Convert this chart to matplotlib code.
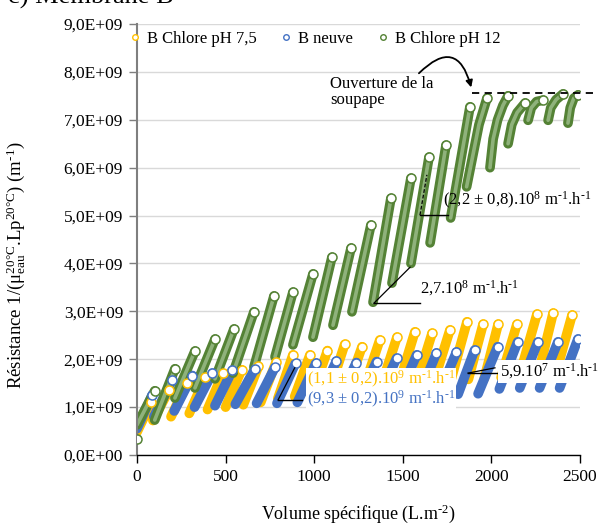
import numpy as np
import matplotlib
matplotlib.use("Agg")
import matplotlib.pyplot as plt
from matplotlib.lines import Line2D
from matplotlib.patches import Arc, FancyArrowPatch
from matplotlib.ticker import FuncFormatter, MultipleLocator

plt.rcParams["font.family"] = ["Liberation Serif", "DejaVu Serif"]
plt.rcParams["mathtext.fontset"] = "custom"
plt.rcParams["mathtext.rm"] = "Liberation Serif"
plt.rcParams["mathtext.it"] = "Liberation Serif:italic"

nan = np.nan

# filtration cycles, one segment per cycle, separated by nan (y in 1e9 m-1)
yellow_x = [0, 80, nan, 90, 180, nan, 192, 282, nan, 295, 385, nan, 398, 485, nan,
            500, 590, nan, 600, 685, nan, 698, 785, nan, 795, 880, nan, 890, 976, nan,
            988, 1075, nan, 1085, 1172, nan, 1182, 1270, nan, 1280, 1370, nan,
            1378, 1467, nan, 1478, 1568, nan, 1578, 1665, nan, 1675, 1766, nan,
            1772, 1862, nan, 1870, 1953, nan, 1960, 2038, nan, 2055, 2144, nan,
            2160, 2257, nan, 2265, 2348, nan, 2365, 2455]
yellow_y = [0.48, 1.10, nan, 0.72, 1.35, nan, 0.80, 1.50, nan, 0.87, 1.62, nan, 0.95, 1.71, nan,
            1.00, 1.78, nan, 1.05, 1.85, nan, 1.10, 1.94, nan, 1.18, 2.09, nan, 1.22, 2.09, nan,
            1.27, 2.18, nan, 1.32, 2.31, nan, 1.35, 2.26, nan, 1.40, 2.40, nan,
            1.44, 2.46, nan, 1.48, 2.57, nan, 1.50, 2.54, nan, 1.53, 2.61, nan,
            1.57, 2.78, nan, 1.58, 2.73, nan, 1.60, 2.73, nan, 1.62, 2.73, nan,
            1.68, 2.94, nan, 1.70, 2.96, nan, 1.72, 2.92]

blue_x = [0, 85, nan, 95, 200, nan, 210, 312, nan, 325, 425, nan, 440, 538, nan,
          555, 665, nan, 675, 780, nan, 790, 895, nan, 905, 1010, nan, 1020, 1125, nan,
          1135, 1238, nan, 1250, 1352, nan, 1362, 1465, nan, 1475, 1578, nan,
          1590, 1690, nan, 1700, 1803, nan, 1812, 1905, nan, 1925, 2035, nan,
          2045, 2148, nan, 2160, 2262, nan, 2272, 2375, nan, 2385, 2488]
blue_y = [0.55, 1.25, nan, 0.80, 1.57, nan, 0.92, 1.66, nan, 1.00, 1.71, nan, 1.03, 1.77, nan,
          1.06, 1.80, nan, 1.08, 1.84, nan, 1.08, 1.92, nan, 1.10, 1.92, nan, 1.12, 1.96, nan,
          1.14, 1.93, nan, 1.15, 1.95, nan, 1.18, 2.02, nan, 1.20, 2.09, nan,
          1.22, 2.13, nan, 1.25, 2.15, nan, 1.27, 2.19, nan, 1.28, 2.26, nan,
          1.38, 2.36, nan, 1.40, 2.36, nan, 1.40, 2.36, nan, 1.40, 2.42]

green_x = [0, nan, 0, 100, nan, 100, 214, nan, 214, 327, nan, 327, 440, nan, 440, 547, nan,
           542, 660, nan, 660, 773, nan, 779, 880, nan, 880, 993, nan, 993, 1100, nan,
           1106, 1208, nan, 1213, 1320, nan, 1332, 1433, nan, 1439, 1546, nan,
           1546, 1648, nan, 1654, 1744, nan, 1770, 1879, nan, 1860, 1930, 1975, nan,
           1992, 2010, 2035, 2065, 2094, nan, 2094, 2115, 2145, 2190, nan,
           2207, 2225, 2255, 2291, nan, 2320, 2335, 2365, 2404, nan,
           2432, 2445, 2465, 2489]
green_y = [0.33, nan, 0.63, 1.34, nan, 0.73, 1.80, nan, 1.19, 2.17, nan, 1.40, 2.42, nan, 1.59, 2.63, nan,
           1.71, 2.99, nan, 1.84, 3.32, nan, 2.05, 3.40, nan, 2.30, 3.78, nan, 2.46, 4.13, nan,
           2.71, 4.32, nan, 2.99, 4.80, nan, 3.19, 5.36, nan, 3.59, 5.78, nan,
           4.00, 6.22, nan, 4.43, 6.47, nan, 4.95, 7.27, nan, 5.60, 6.90, 7.45, nan,
           6.00, 6.60, 7.00, 7.30, 7.50, nan, 6.50, 6.90, 7.15, 7.35, nan,
           6.99, 7.25, 7.38, 7.41, nan, 6.99, 7.25, 7.42, 7.54, nan,
           6.93, 7.25, 7.45, 7.52]

series = [
    ("B Chlore pH 7,5", yellow_x, yellow_y, "#FFC000"),
    ("B neuve", blue_x, blue_y, "#4472C4"),
    ("B Chlore pH 12", green_x, green_y, "#548235"),
]

FS = 12.5
UNIT = r" m$^{\text{-1}}$.h$^{\text{-1}}$"

fig = plt.figure(figsize=(6.08, 5.27), dpi=100)
ax = fig.add_axes([137 / 608, 1 - 455 / 527, 443 / 608, 431 / 527])
ax.set_xlim(0, 2500)
ax.set_ylim(0, 9e9)

handles = []
for name, xs, ys, col in series:
    x = np.array(xs, dtype=float)
    y = np.array(ys, dtype=float) * 1e9
    ax.plot(x, y, color=col, lw=7, solid_capstyle="round", solid_joinstyle="round", zorder=2)
    if col == "#548235":
        # hollow-ring texture of the dense green markers
        ax.plot(x, y, color="#8fb27b", lw=2.6, solid_capstyle="round", zorder=2)
    # last point of each cycle shows as a hollow ring
    nxt = np.append(x[1:], nan)
    ends = ~np.isnan(x) & np.isnan(nxt)
    ax.plot(x[ends], y[ends], "o", ms=6.5, mfc="white", mec=col, mew=1.1, zorder=3)
    handles.append(Line2D([], [], marker="o", ls="none", ms=4, mfc="white", mec=col, mew=1.0, label=name))

ax.yaxis.set_major_locator(MultipleLocator(1e9))
ax.xaxis.set_major_locator(MultipleLocator(500))


def sci_fmt(v, pos):
    if v == 0:
        return "0,0E+00"
    return f"{v / 1e9:.1f}".replace(".", ",") + "E+09"


ax.yaxis.set_major_formatter(FuncFormatter(sci_fmt))
ax.grid(True, axis="y", color="#d9d9d9", lw=1.0, zorder=0)
ax.set_axisbelow(True)
for s in ["top", "right"]:
    ax.spines[s].set_visible(False)
ax.spines["left"].set_color("#7f7f7f")
ax.spines["left"].set_linewidth(1.5)
ax.spines["bottom"].set_color("black")
ax.spines["bottom"].set_linewidth(1.0)
ax.tick_params(axis="y", direction="out", length=6, width=1.0, color="#7f7f7f", labelsize=FS, pad=4)
ax.tick_params(axis="x", direction="out", length=6, width=1.0, color="black", labelsize=FS, pad=4)

ax.set_xlabel(r"Volume spécifique (L.m$^{\text{-2}}$)", fontsize=FS + 0.5, labelpad=13)
ax.set_ylabel(r"Résistance 1/(μ$_{\mathrm{eau}}^{\mathrm{20°C}}$.Lp$^{\mathrm{20°C}}$) (m$^{\text{-1}}$)",
              fontsize=FS + 1, labelpad=12)
ax.yaxis.set_label_coords(-0.245, 0.44)

ax.legend(handles=handles, loc="center", bbox_to_anchor=(0.40, 0.965), ncol=3, frameon=False,
          fontsize=12, handlelength=0.8, handletextpad=0.3, columnspacing=1.4, borderpad=0)

fig.text(8 / 608, 1 - 4 / 527, "c) Membrane B", fontsize=19, va="baseline", ha="left")

# pixels per data unit, used to draw round arcs
sx = 443 / 2500
sy = 431 / 9e9


def angle_mark(x0, y0, x1, y1, xh, r_px, dashed=False):
    ax.plot([x0, x1], [y0, y1], color="black", lw=0.9, ls=(0, (3, 1.5)) if dashed else "-", zorder=5)
    ax.plot([x0, xh], [y0, y0], color="black", lw=1.0, zorder=5)
    ang = np.degrees(np.arctan2((y1 - y0) * sy, (x1 - x0) * sx))
    ax.add_patch(Arc((x0, y0), 2 * r_px / sx, 2 * r_px / sy, theta1=0, theta2=ang,
                     color="black", lw=0.9, zorder=5))


ANN = 12

# slope annotations
angle_mark(1337, 3.17e9, 1541, 3.92e9, 1597, 35)
ax.text(1597, 3.49e9, "2,7.10$^{8}$" + UNIT, fontsize=ANN, va="center", ha="left", zorder=6)

angle_mark(1597, 5.01e9, 1636, 5.85e9, 1755, 12, dashed=True)
ax.text(1727, 5.32e9, "(2,2 ± 0,8).10$^{8}$" + UNIT, fontsize=ANN, va="center", ha="left",
        zorder=6, clip_on=False)

ax.text(959, 1.58e9, "(1,1 ± 0,2).10$^{9}$" + UNIT, fontsize=ANN, color="#FFC000",
        va="center", ha="left", zorder=6,
        bbox=dict(boxstyle="square,pad=0.05", fc="white", ec="none"))
ax.text(959, 1.17e9, "(9,3 ± 0,2).10$^{9}$" + UNIT, fontsize=ANN, color="#4472C4",
        va="center", ha="left", zorder=6,
        bbox=dict(boxstyle="square,pad=0.05", fc="white", ec="none"))
angle_mark(796, 1.15e9, 890, 1.82e9, 931, 12)

angle_mark(1868, 1.71e9, 2020, 1.82e9, 2032, 30)
ax.text(2048, 1.75e9, "5,9.10$^{7}$" + UNIT, fontsize=ANN, va="center", ha="left", zorder=6,
        clip_on=False, bbox=dict(boxstyle="square,pad=0.1", fc="white", ec="none"))

# valve opening
ax.plot([1890, 2602], [7.56e9, 7.56e9], color="black", lw=1.3, ls=(0, (4, 3)), clip_on=False, zorder=5)
ax.text(1089, 7.92e9, "Ouverture de la\nsoupape", fontsize=ANN, va="top", ha="left", linespacing=1.05)
arrow = FancyArrowPatch((1580, 7.93e9), (1890, 7.62e9), connectionstyle="arc3,rad=-0.9",
                        arrowstyle="-|>", mutation_scale=10, color="black", lw=1.3, clip_on=False)
ax.add_patch(arrow)

fig.savefig("out.png", dpi=100)
